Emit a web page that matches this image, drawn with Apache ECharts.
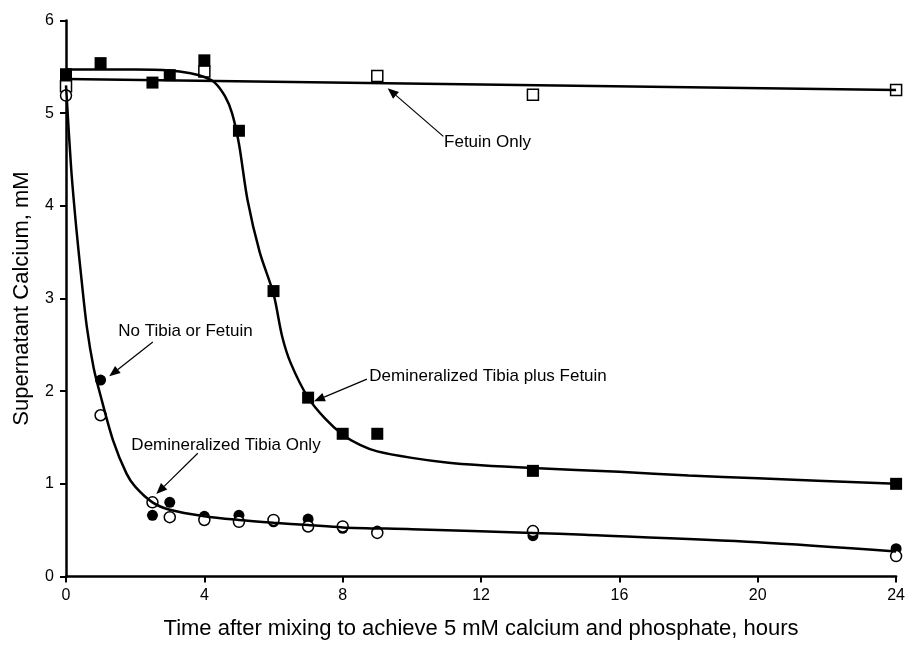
<!DOCTYPE html>
<html><head><meta charset="utf-8">
<script src="https://cdn.jsdelivr.net/npm/echarts@6/dist/echarts.min.js"></script>
<style>html,body{margin:0;padding:0;background:#fff}#c{width:908px;height:657px}</style>
</head><body><div id="c"></div><script>
// Demineralized Tibia plus Fetuin (filled squares)
const tibFetX = [0, 1, 2.5, 3, 4, 5, 6, 7, 8, 9, 13.5, 24];
const tibFetY = [5.42, 5.54, 5.33, 5.41, 5.57, 4.81, 3.08, 1.93, 1.54, 1.54, 1.14, 1.0];
// Fetuin Only (open squares)
const fetX = [0, 4, 9, 13.5, 24];
const fetY = [5.29, 5.45, 5.40, 5.20, 5.25];
// No Tibia or Fetuin (filled circles)
const noneX = [0, 1, 2.5, 3, 4, 5, 6, 7, 8, 9, 13.5, 24];
const noneY = [5.2, 2.12, 0.66, 0.80, 0.65, 0.66, 0.59, 0.62, 0.52, 0.49, 0.44, 0.30];
// Demineralized Tibia Only (open circles)
const tibX = [0, 1, 2.5, 3, 4, 5, 6, 7, 8, 9, 13.5, 24];
const tibY = [5.19, 1.74, 0.80, 0.64, 0.61, 0.59, 0.61, 0.54, 0.54, 0.47, 0.49, 0.22];
// fitted curves
const curveTibFetX = [0, 1, 2, 3, 3.6, 4.0, 4.3, 4.6, 4.8, 5.0, 5.25, 5.6, 6.0, 6.25, 6.5, 7.0, 7.5, 8.0, 8.5, 9.0, 10, 11, 12, 13.5, 16, 18, 20, 24];
const curveTibFetY = [5.47, 5.47, 5.47, 5.46, 5.43, 5.39, 5.33, 5.18, 5.0, 4.67, 4.06, 3.5, 3.05, 2.59, 2.3, 1.93, 1.7, 1.53, 1.42, 1.35, 1.28, 1.23, 1.20, 1.17, 1.13, 1.09, 1.06, 1.0];
const curveFetX = [0, 24];
const curveFetY = [5.37, 5.25];
const curveLowX = [0, 0.15, 0.3, 0.45, 0.6, 0.8, 1.0, 1.36, 1.75, 2.0, 2.5, 3.0, 4, 5, 6, 7, 8, 10, 13.5, 15, 20, 24];
const curveLowY = [5.3, 4.4, 3.75, 3.2, 2.7, 2.25, 1.95, 1.47, 1.11, 0.97, 0.8, 0.72, 0.65, 0.61, 0.58, 0.555, 0.53, 0.51, 0.47, 0.45, 0.37, 0.27];
// annotations: label, text anchor (left, middle), arrow start, arrow tip (data coords)
const annText = ['No Tibia or Fetuin', 'Demineralized Tibia plus Fetuin', 'Demineralized Tibia Only', 'Fetuin Only'];
const annTextPos = [[1.51, 2.65], [8.77, 2.155], [1.89, 1.42], [10.93, 4.69]];
const annFrom = [[2.51, 2.53], [8.70, 2.13], [3.81, 1.33], [10.91, 4.75]];
const annTo = [[1.25, 2.16], [7.17, 1.89], [2.61, 0.89], [9.30, 5.27]];
const xTicks = [0, 24, 4];
const yTicks = [0, 6, 1];

const zip = (xs, ys) => xs.map((x, i) => [x, ys[i]]);
const FONT = '"Liberation Sans", Arial, sans-serif';
const chart = echarts.init(document.getElementById('c'));
const axisCommon = {
  axisLine: { show: true, onZero: false, lineStyle: { color: '#000', width: 2.5 } },
  axisTick: { show: true, length: 6, lineStyle: { color: '#000', width: 2 } },
  splitLine: { show: false },
  axisLabel: { color: '#000', fontSize: 16, fontFamily: FONT },
  nameTextStyle: { color: '#000', fontSize: 22, fontFamily: FONT }
};
const lineSeries = (xs, ys, sm) => ({
  type: 'line', data: zip(xs, ys), smooth: sm, symbol: 'none', z: 5,
  lineStyle: { color: '#000', width: 2.5 }, silent: true
});
chart.setOption({
  animation: false,
  backgroundColor: '#fff',
  grid: { left: 66, right: 8, top: 20.5, bottom: 80.5, containLabel: false },
  xAxis: Object.assign({}, axisCommon, {
    type: 'value', min: xTicks[0], max: xTicks[1], interval: xTicks[2],
    name: 'Time after mixing to achieve 5 mM calcium and phosphate, hours',
    nameLocation: 'middle', nameGap: 41,
    axisLabel: Object.assign({}, axisCommon.axisLabel, { margin: 11 })
  }),
  yAxis: Object.assign({}, axisCommon, {
    type: 'value', min: yTicks[0], max: yTicks[1], interval: yTicks[2],
    name: 'Supernatant Calcium, mM', nameLocation: 'middle', nameGap: 33,
    axisLabel: Object.assign({}, axisCommon.axisLabel, { margin: 12 })
  }),
  series: [
    lineSeries(curveTibFetX, curveTibFetY, 0.3),
    lineSeries(curveFetX, curveFetY, false),
    lineSeries(curveLowX, curveLowY, 0.3),
    { type: 'scatter', data: zip(fetX, fetY), symbol: 'rect', symbolSize: 11, z: 3,
      itemStyle: { color: '#fff', borderColor: '#000', borderWidth: 1.5, opacity: 1 } },
    { type: 'scatter', data: zip(tibFetX, tibFetY), symbol: 'rect', symbolSize: 12, z: 4,
      itemStyle: { color: '#000', opacity: 1 } },
    { type: 'scatter', data: zip(noneX, noneY), symbol: 'circle', symbolSize: 11, z: 3,
      itemStyle: { color: '#000', opacity: 1 } },
    { type: 'scatter', data: zip(tibX, tibY), symbol: 'circle', symbolSize: 11, z: 4,
      itemStyle: { color: '#fff', borderColor: '#000', borderWidth: 1.5, opacity: 1 } }
  ]
});

const gfx = [];
annText.forEach((t, i) => {
  const tp = chart.convertToPixel({ gridIndex: 0 }, annTextPos[i]);
  const a = chart.convertToPixel({ gridIndex: 0 }, annFrom[i]);
  const b = chart.convertToPixel({ gridIndex: 0 }, annTo[i]);
  gfx.push({ type: 'text', x: tp[0], y: tp[1], z: 10,
    style: { text: t, fill: '#000', font: '17px ' + FONT, textAlign: 'left', textVerticalAlign: 'middle' } });
  const dx = b[0] - a[0], dy = b[1] - a[1], L = Math.hypot(dx, dy);
  const ux = dx / L, uy = dy / L, hl = 11, hw = 4.5;
  const bx = b[0] - ux * hl, by = b[1] - uy * hl;
  gfx.push({ type: 'line', z: 10, shape: { x1: a[0], y1: a[1], x2: bx, y2: by },
    style: { stroke: '#000', lineWidth: 1.2 } });
  gfx.push({ type: 'polygon', z: 10, shape: { points: [[b[0], b[1]], [bx - uy * hw, by + ux * hw], [bx + uy * hw, by - ux * hw]] },
    style: { fill: '#000' } });
});
chart.setOption({ graphic: gfx });
</script></body></html>
